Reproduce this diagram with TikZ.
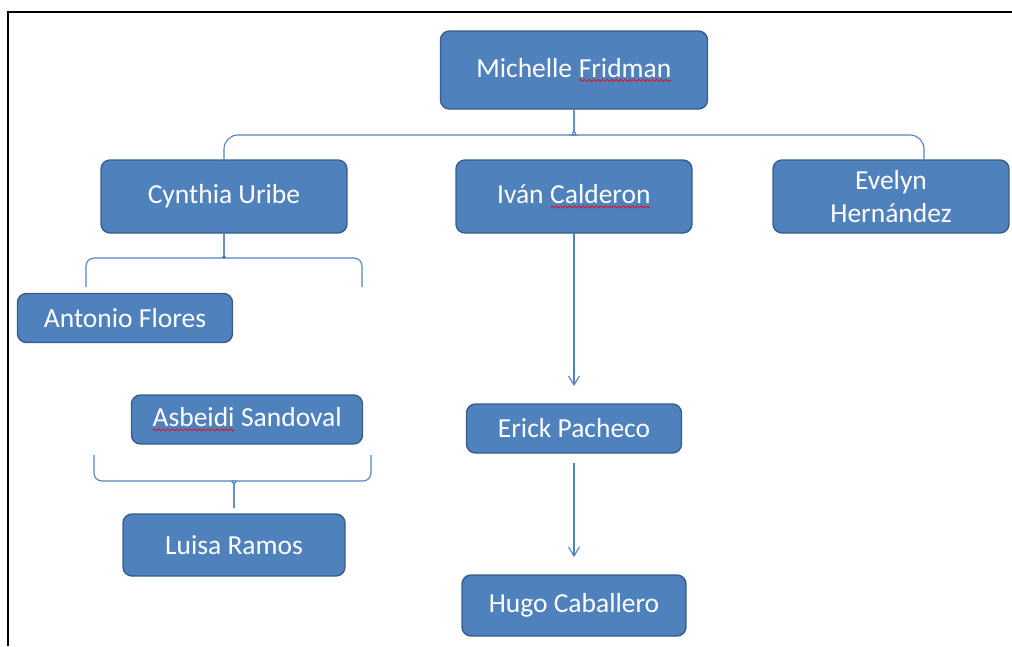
\documentclass[tikz,border=0pt]{standalone}
\usepackage{fontspec}
\setmainfont{Carlito}
\usetikzlibrary{arrows.meta,positioning,decorations.pathmorphing}

\newcommand\typo[1]{\tikz[baseline=(w.base), x=1pt, y=1pt]{\node[inner sep=0pt, outer sep=0pt, minimum width=0pt, minimum height=0pt, draw=none, fill=none, sharp corners] (w) {#1};
  \draw[red, line width=0.7pt, sharp corners, decorate, decoration={snake, amplitude=1pt, segment length=4.5pt}] ([yshift=-3pt]w.base west) -- ([yshift=-3pt]w.base east);}}

\begin{document}
\begin{tikzpicture}[
  x=1pt, y=-1pt,
  font=\fontsize{27.5}{33}\selectfont,
  >={Straight Barb[length=9pt,width=11pt]},
  person/.style={draw=boxline, fill=boxfill, text=white, rounded corners=9pt, line width=1.4pt, align=center, inner sep=0pt, outer sep=0pt},
  link/.style={draw=linkblue, line width=1.1pt}
]

\definecolor{boxfill}{RGB}{79,129,189}
\definecolor{boxline}{RGB}{56,93,138}
\definecolor{linkblue}{RGB}{80,130,192}

\useasboundingbox (0,0) rectangle (1012,646);
\draw[line width=2pt] (8,646) -- (8,12) -- (1012,12);

\node[person, minimum width=267pt, minimum height=78pt] (mic) at (574,70) {Michelle \typo{Fridman}};
\node[person, minimum width=236pt, minimum height=73pt, below=51pt of mic] (ivan) {Iván \typo{Calderon}};
\node[person, minimum width=246pt, minimum height=73pt] (cyn) at (224,196.5) {Cynthia Uribe};
\node[person, minimum width=236pt, minimum height=73pt] (eve) at (891,196.5) {Evelyn\\Hernández};
\node[person, minimum width=215pt, minimum height=49pt] (ant) at (125,318) {Antonio Flores};
\node[person, minimum width=231pt, minimum height=49pt] (asb) at (247,419.5) {\typo{Asbeidi} Sandoval};
\node[person, minimum width=222pt, minimum height=62pt] (lui) at (234,545) {Luisa Ramos};
\node[person, minimum width=215pt, minimum height=49pt, below=171pt of ivan] (eri) {Erick Pacheco};
\node[person, minimum width=224pt, minimum height=61pt, below=122pt of eri] (hug) {Hugo Caballero};

\coordinate (eve-r) at (924,160);
\coordinate (cyn-l) at (86,287);
\coordinate (cyn-r) at (362,287);
\coordinate (grp-l) at (94,455);
\coordinate (grp-r) at (371,455);

\draw[link, rounded corners=14pt] (cyn.north) -- (224,135) -- (561,135) .. controls (570,135) and (574,131) .. (574,118) -- (mic.south);
\draw[link, rounded corners=14pt] (eve-r) -- (924,135) -- (587,135) .. controls (578,135) and (574,131) .. (574,118) -- (mic.south);

\draw[link, rounded corners=8pt] (cyn-l) -- (86,258) -- (215,258) .. controls (221,258) and (224,255) .. (224,249) -- (cyn.south);
\draw[link, rounded corners=8pt] (cyn-r) -- (362,258) -- (233,258) .. controls (227,258) and (224,255) .. (224,249) -- (cyn.south);

\draw[link, rounded corners=8pt, shorten >=6pt] (grp-l) -- (94,481) -- (225,481) .. controls (230,481) and (234,484) .. (234,491) -- (lui.north);
\draw[link, rounded corners=8pt, shorten >=6pt] (grp-r) -- (371,481) -- (243,481) .. controls (238,481) and (234,484) .. (234,491) -- (lui.north);

\draw[link, ->, shorten >=18pt] (ivan) -- (eri);
\draw[link, ->, shorten <=10pt, shorten >=18pt] (eri) -- (hug);

\end{tikzpicture}
\end{document}
